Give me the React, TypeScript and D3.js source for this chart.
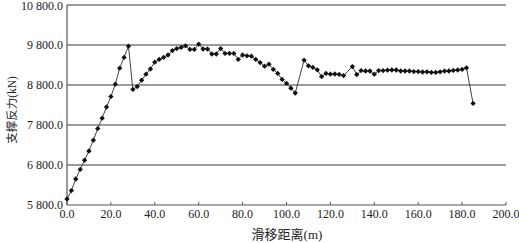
import React from "react";
import * as d3 from "d3";

const xValues: number[] = [0, 2, 4, 6, 8, 10, 12, 14, 16, 18, 20, 22, 24, 26, 28, 30, 32, 34, 36, 38, 40, 42, 44, 46, 48, 50, 52, 54, 56, 58, 60, 62, 64, 66, 68, 70, 72, 74, 76, 78, 80, 82, 84, 86, 88, 90, 92, 94, 96, 98, 100, 102, 104, 108, 110, 112, 114, 116, 118, 120, 122, 124, 126, 130, 132, 134, 136, 138, 140, 142, 144, 146, 148, 150, 152, 154, 156, 158, 160, 162, 164, 166, 168, 170, 172, 174, 176, 178, 180, 182, 185];
const forceValues: number[] = [5950, 6160, 6450, 6690, 6920, 7150, 7420, 7710, 7970, 8250, 8510, 8820, 9220, 9490, 9770, 8690, 8760, 8920, 9070, 9200, 9370, 9440, 9490, 9550, 9660, 9710, 9740, 9780, 9690, 9690, 9820, 9700, 9700, 9575, 9575, 9710, 9590, 9590, 9590, 9440, 9550, 9530, 9520, 9440, 9360, 9270, 9320, 9190, 9090, 8940, 8840, 8720, 8600, 9420, 9280, 9240, 9180, 9010, 9090, 9070, 9075, 9065, 9035, 9260, 9060, 9160, 9150, 9150, 9070, 9160, 9160, 9170, 9175, 9175, 9150, 9150, 9150, 9135, 9135, 9125, 9130, 9115, 9115, 9130, 9150, 9150, 9165, 9175, 9190, 9230, 8340];
const xTicks: number[] = [0, 20, 40, 60, 80, 100, 120, 140, 160, 180, 200];
const yTicks: number[] = [5800, 6800, 7800, 8800, 9800, 10800];
const xTitle = "滑移距离(m)";
const yTitle = "支撑反力(kN)";

const W = 519;
const H = 243;
const left = 67;
const right = 506;
const top = 5;
const bottom = 205;

const fmtY = (v: number) => {
  const s = v.toFixed(1);
  const [intPart, dec] = s.split(".");
  const withSpace = intPart.length > 3 ? intPart.slice(0, intPart.length - 3) + " " + intPart.slice(-3) : intPart;
  return withSpace + "." + dec;
};

export default function App() {
  const x = d3.scaleLinear().domain([0, 200]).range([left, right]);
  const y = d3.scaleLinear().domain([5800, 10800]).range([bottom, top]);
  const data = xValues.map((d, i) => [d, forceValues[i]] as [number, number]);
  const line = d3.line<[number, number]>().x((d) => x(d[0])).y((d) => y(d[1]));
  const marker = d3.symbol().type(d3.symbolDiamond2).size(18)() as string;
  const font = "'Liberation Serif', 'Times New Roman', serif";
  const cjk = "'Liberation Serif', 'Noto Sans CJK SC', serif";

  return (
    <svg width={W} height={H} style={{ position: "absolute", left: 0, top: 0, background: "#fff" }}>
      {yTicks.map((t) => (
        <g key={t}>
          {t > 5800 && (
            <line x1={left} x2={right} y1={y(t)} y2={y(t)} stroke="#7a7a7a" strokeWidth={1.3} />
          )}
          <text x={63} y={Math.max(y(t) + 4, 10)} textAnchor="end" fontFamily={font} fontSize={12} fill="#222">
            {fmtY(t)}
          </text>
        </g>
      ))}
      <line x1={left} x2={left} y1={top} y2={bottom} stroke="#555" strokeWidth={1.2} />
      <line x1={left} x2={right} y1={bottom} y2={bottom} stroke="#555" strokeWidth={1.2} />
      {xTicks.map((t) => (
        <g key={t}>
          <line x1={x(t)} x2={x(t)} y1={bottom} y2={bottom - 3} stroke="#555" strokeWidth={1} />
          <text x={x(t)} y={218} textAnchor="middle" fontFamily={font} fontSize={12} fill="#222">
            {t.toFixed(1)}
          </text>
        </g>
      ))}
      <path d={line(data) as string} fill="none" stroke="#444" strokeWidth={1} />
      {data.map((d, i) => (
        <path key={i} d={marker} transform={`translate(${x(d[0])},${y(d[1])})`} fill="#111" />
      ))}
      <text x={287} y={239} textAnchor="middle" fontFamily={cjk} fontSize={13} fill="#222">
        {xTitle}
      </text>
      <text
        transform={`translate(16,110) rotate(-90)`}
        textAnchor="middle"
        fontFamily={cjk}
        fontSize={11.5}
        fill="#222"
      >
        {yTitle}
      </text>
    </svg>
  );
}
